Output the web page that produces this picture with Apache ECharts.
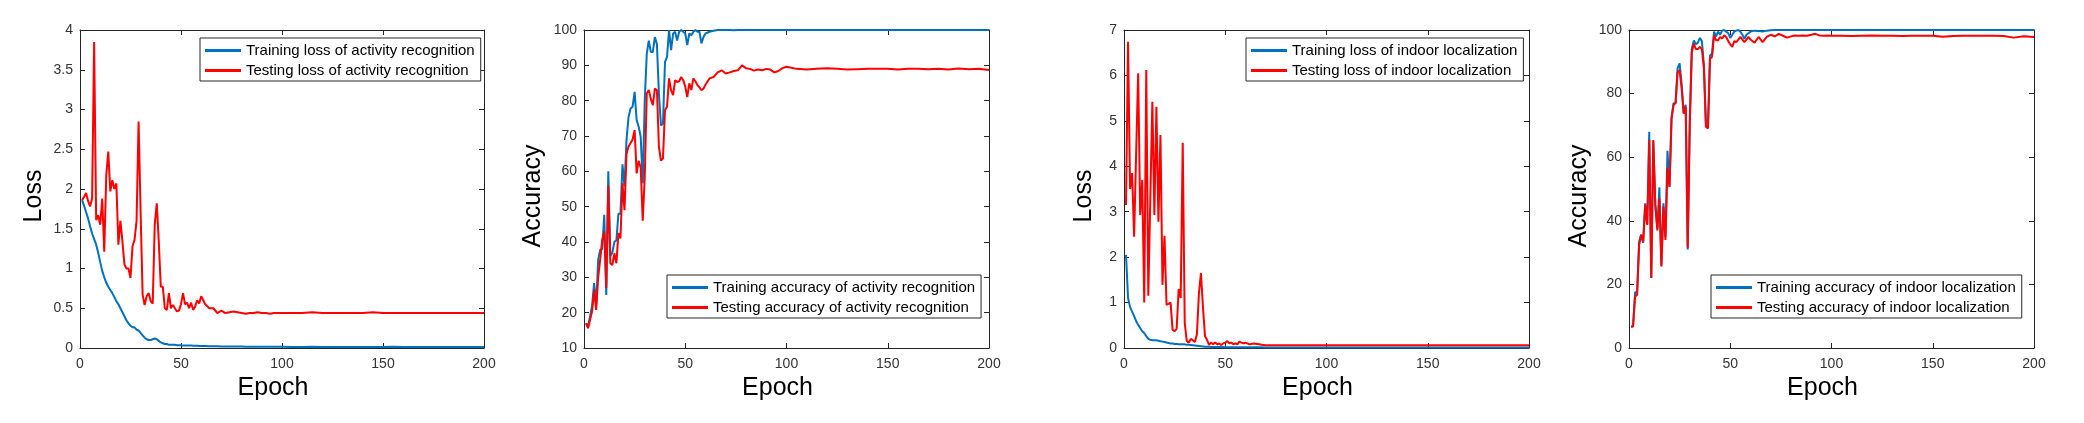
<!DOCTYPE html>
<html>
<head>
<meta charset="utf-8">
<script src="https://cdn.jsdelivr.net/npm/echarts@6/dist/echarts.min.js"></script>
<style>
html, body { margin: 0; padding: 0; background: #fff; }
#box { width: 2084px; height: 423px; }
</style>
</head>
<body>
<div id="box"></div>
<script>
// epochs (every epoch early on, sparser where the curves are flat)
let epochs = [1,2,3,4,5,6,7,8,9,10,11,12,13,14,15,16,17,18,19,20,21,22,23,24,25,26,27,28,29,30,
  31,32,33,34,35,36,37,38,39,40,41,42,43,44,45,46,47,48,49,50,51,52,53,54,55,56,57,58,59,60,
  62,64,66,68,70,72,74,76,78,80,82,84,86,88,90,92,94,96,98,100,
  105,110,115,120,125,130,135,140,145,150,155,160,165,170,175,180,185,190,195,200];

// activity recognition - loss
let actTrainLoss = [1.86,1.79,1.71,1.63,1.53,1.44,1.37,1.30,1.20,1.08,
  0.97,0.89,0.82,0.77,0.73,0.69,0.64,0.59,0.55,0.50,
  0.45,0.40,0.35,0.31,0.28,0.26,0.26,0.23,0.22,0.19,
  0.16,0.13,0.11,0.10,0.10,0.11,0.12,0.11,0.09,0.07,
  0.06,0.05,0.05,0.04,0.04,0.04,0.04,0.035,0.035,0.035,
  0.03,0.03,0.03,0.03,0.03,0.028,0.028,0.027,0.025,0.025,
  0.024,0.023,0.022,0.022,0.020,0.020,0.019,0.019,0.018,0.018,
  0.017,0.017,0.016,0.016,0.016,0.015,0.015,0.015,0.015,0.015,
  0.014,0.014,0.015,0.014,0.013,0.014,0.013,0.013,0.014,0.013,
  0.016,0.013,0.012,0.013,0.012,0.013,0.012,0.012,0.013,0.012];
let actTestLoss = [1.86,1.90,1.95,1.85,1.78,1.88,3.85,1.61,1.67,1.55,
  1.88,1.21,2.17,2.47,1.97,2.11,2.00,2.07,1.30,1.60,
  1.34,1.05,1.00,1.00,0.88,1.28,1.36,1.60,2.85,1.72,
  0.67,0.54,0.65,0.69,0.59,0.56,1.55,1.82,1.34,0.77,
  0.77,0.50,0.48,0.69,0.50,0.54,0.50,0.46,0.47,0.55,
  0.69,0.55,0.57,0.50,0.57,0.48,0.52,0.60,0.56,0.65,
  0.55,0.50,0.50,0.44,0.47,0.44,0.45,0.46,0.45,0.44,
  0.43,0.44,0.44,0.45,0.44,0.44,0.43,0.44,0.44,0.44,
  0.44,0.44,0.45,0.44,0.44,0.44,0.44,0.44,0.45,0.44,
  0.44,0.44,0.44,0.44,0.44,0.44,0.44,0.44,0.44,0.44];

// activity recognition - accuracy
let actTrainAcc = [17,16,19,22,28.4,22,35,37.8,38,47.7,
  25,60,36,37,40,40.5,48,48,62,55.7,
  69,75.4,77.8,78.3,82.5,74.5,72.6,69.8,56.6,80,
  93.3,97,93.8,93.8,98,96,82,73,73.5,91,
  92.4,100,94.3,99,99.5,97,99.5,100,99.5,99,
  95.7,99,98.5,99.5,100,99.5,99.5,96.2,98,99,
  99.5,99.8,100,100,100,100,99.9,100,100,100,
  100,100,100,100,100,100,100,100,100,100,
  100,100,100,100,100,100,100,100,100,100,
  100,100,100,100,100,100,100,100,100,100];
let actTestAcc = [17,15.6,18,20.4,26.5,20.8,30,35,40.6,43,
  27,56,34,33.5,36.8,34,42.5,41,56.6,49,
  65,67,68,69,71.7,59.4,63,61,46,58.5,
  82,83,80.5,78.7,83.4,83,67,63,63.7,77.3,
  78.3,86.3,83,81.6,85.8,85.3,85.5,86.7,85.8,84,
  81,84.9,83,86.3,85.5,84.4,83.8,83,83.4,84.5,
  86.3,86.7,88,88.6,87.7,88,88.4,88.6,90,89.2,
  89,88.5,88.8,88.6,89,88.8,88,88.4,89.2,89.6,
  89,88.8,89,89.2,89,88.8,88.9,89,89,89,
  88.8,89,89,88.9,89,88.8,89.1,88.9,89,88.7];

// indoor localization - loss
let locTrainLoss = [2.05,1.10,0.90,0.80,0.70,0.59,0.51,0.44,0.37,0.33,
  0.26,0.20,0.18,0.17,0.17,0.17,0.16,0.15,0.14,0.13,
  0.12,0.11,0.10,0.10,0.09,0.09,0.085,0.08,0.08,0.08,
  0.07,0.07,0.065,0.06,0.055,0.05,0.045,0.04,0.035,0.03,
  0.028,0.025,0.024,0.023,0.022,0.021,0.02,0.02,0.02,0.019,
  0.019,0.018,0.018,0.018,0.017,0.017,0.016,0.016,0.016,0.015,
  0.015,0.015,0.014,0.014,0.013,0.013,0.013,0.012,0.012,0.012,
  0.011,0.011,0.011,0.011,0.01,0.01,0.01,0.01,0.01,0.01,
  0.01,0.01,0.01,0.01,0.01,0.01,0.01,0.01,0.01,0.01,
  0.01,0.01,0.01,0.01,0.01,0.01,0.01,0.01,0.01,0.01];
let locTestLoss = [3.15,6.74,3.50,3.85,2.45,4.30,6.05,2.93,3.70,1.00,
  6.12,1.15,3.30,5.42,2.93,5.31,2.78,4.69,1.39,2.47,
  0.95,0.97,1.00,0.40,0.37,0.42,1.30,1.10,4.52,0.55,
  0.15,0.12,0.20,0.17,0.13,0.30,1.20,1.65,0.90,0.26,
  0.18,0.07,0.12,0.08,0.12,0.08,0.10,0.07,0.10,0.12,
  0.15,0.10,0.12,0.08,0.10,0.08,0.14,0.12,0.10,0.12,
  0.08,0.10,0.09,0.07,0.06,0.06,0.06,0.06,0.06,0.06,
  0.06,0.06,0.06,0.06,0.06,0.06,0.06,0.06,0.06,0.06,
  0.06,0.06,0.06,0.06,0.06,0.06,0.06,0.06,0.06,0.06,
  0.06,0.06,0.06,0.06,0.06,0.06,0.06,0.06,0.06,0.06];

// indoor localization - accuracy
let locTrainAcc = [6.8,6.8,17.5,17.5,33.5,35.6,33,45.5,39,68,
  22,65,45,37.5,50.5,26,45.5,35,62,50.7,
  72.5,77,77,88,89.5,83,74,76.5,31,71,
  94,96.7,95.5,96,97.5,96.5,89,70,69.5,92,
  92.5,99.5,98,99.5,98.5,99.8,100,99.5,99,97.5,
  98.5,99.5,99.8,100,99.5,98.5,97.2,98.5,99,99.5,
  99.8,99.7,99.5,99.8,99.9,100,100,100,100,100,
  100,100,100,100,100,100,100,100,100,100,
  100,100,100,100,100,100,100,100,100,100,
  100,100,100,100,100,100,100,100,100,100];
let locTestAcc = [6.8,6.8,16.2,16.7,32.4,35.6,33.5,45,38.7,65.4,
  22,65.4,45,37,47,25.6,44.5,34,56.5,50.7,
  72,76.4,77,86.8,87.3,81.6,73.7,75.8,31.5,70,
  93,95.7,94,94,94.7,94,87.9,69.6,69,91,
  91.5,98.3,96.8,96.8,97.8,97.3,98.3,97.8,96.5,95.5,
  94.7,96.5,96.2,97,97.8,97,96.2,97,97.8,97,
  96,97.8,96.2,97.8,98.5,98,98.8,98.2,97.6,98,
  98.3,98.2,98.3,98.2,98.5,98.8,98.3,98.2,98.3,98.2,
  98.2,98.1,98.2,98.3,98.2,98.2,98.1,98.2,98.2,98.2,
  97.9,98.1,98.2,98.2,98.2,98.2,98.1,97.6,98.0,97.8];

let axisColor = '#262626';
let tickFont = 'Liberation Sans, Arial, sans-serif';

let panels = [
  {left: 80, width: 404, yMin: 0, yMax: 4, yStep: 0.5, yName: 'Loss', yGap: 33,
   names: ['Training loss of activity recognition', 'Testing loss of activity recognition'],
   train: actTrainLoss, test: actTestLoss, legendLeft: 200, legendTop: 38},
  {left: 584, width: 405, yMin: 10, yMax: 100, yStep: 10, yName: 'Accuracy', yGap: 38,
   names: ['Training accuracy of activity recognition', 'Testing accuracy of activity recognition'],
   train: actTrainAcc, test: actTestAcc, legendLeft: 667, legendTop: 275},
  {left: 1124, width: 405, yMin: 0, yMax: 7, yStep: 1, yName: 'Loss', yGap: 27,
   names: ['Training loss of indoor localization', 'Testing loss of indoor localization'],
   train: locTrainLoss, test: locTestLoss, legendLeft: 1246, legendTop: 38},
  {left: 1629, width: 405, yMin: 0, yMax: 100, yStep: 20, yName: 'Accuracy', yGap: 37,
   names: ['Training accuracy of indoor localization', 'Testing accuracy of indoor localization'],
   train: locTrainAcc, test: locTestAcc, legendLeft: 1711, legendTop: 275}
];

function pairs(values) {
  return epochs.map(function (e, k) { return [e, values[k]]; });
}

let grid = [], xAxis = [], yAxis = [], series = [], legend = [];
let tick = {show: true, inside: true, length: 5, lineStyle: {color: axisColor, width: 1}};
let line = {show: true, onZero: false, lineStyle: {color: axisColor, width: 1}};

panels.forEach(function (p, i) {
  grid.push({left: p.left, top: 30, width: p.width, height: 318});

  // bottom + top x axes (top one only for the box ticks)
  xAxis.push({
    type: 'value', gridIndex: i, min: 0, max: 200, interval: 50,
    axisLine: line, axisTick: tick, splitLine: {show: false},
    axisLabel: {color: '#333', fontSize: 14, fontFamily: tickFont, margin: 9},
    name: 'Epoch', nameLocation: 'middle', nameGap: 24,
    nameTextStyle: {color: '#000', fontSize: 25, fontFamily: tickFont, padding: [0, 18, 0, 0]}
  });
  xAxis.push({
    type: 'value', gridIndex: i, position: 'top', min: 0, max: 200, interval: 50,
    axisLine: line, axisTick: tick, splitLine: {show: false}, axisLabel: {show: false}
  });

  // left + right y axes
  yAxis.push({
    type: 'value', gridIndex: i, min: p.yMin, max: p.yMax, interval: p.yStep,
    axisLine: line, axisTick: tick, splitLine: {show: false},
    axisLabel: {color: '#333', fontSize: 14, fontFamily: tickFont, margin: 7},
    name: p.yName, nameLocation: 'middle', nameGap: p.yGap,
    nameTextStyle: {color: '#000', fontSize: 25, fontFamily: tickFont, padding: [0, 14, 0, 0]}
  });
  yAxis.push({
    type: 'value', gridIndex: i, position: 'right', min: p.yMin, max: p.yMax, interval: p.yStep,
    axisLine: line, axisTick: tick, splitLine: {show: false}, axisLabel: {show: false}
  });

  series.push({
    name: p.names[0], type: 'line', xAxisIndex: 2 * i, yAxisIndex: 2 * i,
    data: pairs(p.train), showSymbol: false, color: '#0072BD',
    lineStyle: {width: 2, color: '#0072BD'}
  });
  series.push({
    name: p.names[1], type: 'line', xAxisIndex: 2 * i, yAxisIndex: 2 * i,
    data: pairs(p.test), showSymbol: false, color: '#FF0000',
    lineStyle: {width: 2, color: '#FF0000'}
  });

  legend.push({
    data: p.names, orient: 'vertical', left: p.legendLeft, top: p.legendTop,
    icon: 'rect', itemWidth: 36, itemHeight: 3, itemGap: 5,
    padding: [5, 6, 3, 5], borderColor: axisColor, borderWidth: 1, backgroundColor: '#fff',
    selectedMode: false,
    textStyle: {color: '#000', fontSize: 15, fontFamily: tickFont}
  });
});

let chart = echarts.init(document.getElementById('box'));
chart.setOption({
  animation: false,
  backgroundColor: '#fff',
  grid: grid,
  xAxis: xAxis,
  yAxis: yAxis,
  legend: legend,
  series: series
});
</script>
</body>
</html>
